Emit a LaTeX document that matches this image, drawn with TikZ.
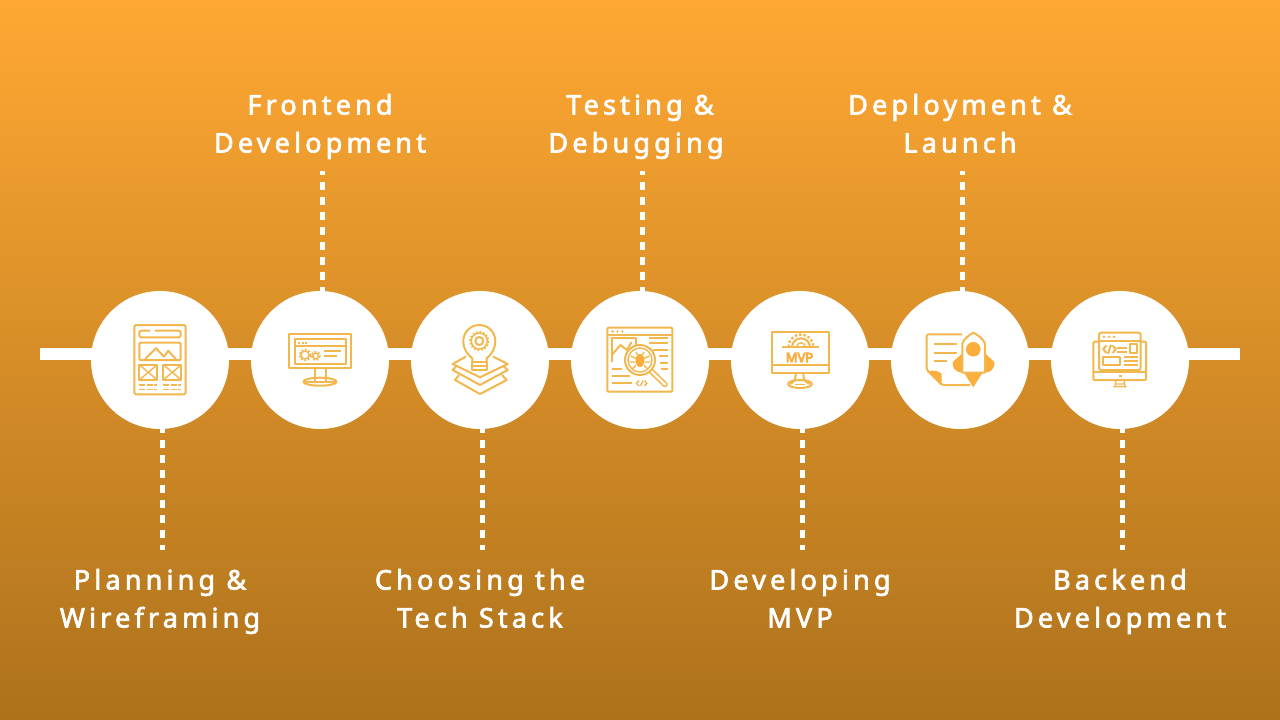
\documentclass[tikz,border=0pt]{standalone}
\usepackage{fontspec}
\newfontfamily\labfont[LetterSpace=15.5]{Noto Sans}
\newfontfamily\mvpfont{Noto Sans}
\definecolor{ic}{HTML}{F2B84E}
\definecolor{icb}{HTML}{FBAE3C}
\definecolor{bgtop}{HTML}{FFA833}
\definecolor{bgbot}{HTML}{AD721C}
\tikzset{
 bg/.style={top color=bgtop,bottom color=bgbot,draw=none},
 disc/.style={circle,fill=white,minimum size=138pt,inner sep=0pt,draw=none},
 lab/.style={text=white,align=center,font=\labfont\fontsize{27}{38}\selectfont,inner sep=0pt,text height=57pt,text depth=7pt,anchor=north,
   execute at begin node={\special{pdf:code 2 Tr 0.7 w 1 1 1 RG}}},
 mvplab/.style={text=icb,inner sep=0pt,font=\mvpfont\fontsize{13}{13}\selectfont,
   execute at begin node={\special{pdf:code 2 Tr 0.8 w 0.984 0.682 0.235 RG}}},
 spine/.style={draw=white,line width=12pt},
 dropd/.style={draw=white,line width=5pt,dash pattern=on 7.7pt off 7.3pt,dash phase=4.4pt},
 dropu/.style={draw=white,line width=5pt,dash pattern=on 7.7pt off 7.3pt,dash phase=4pt},
 icn/.style={draw=ic,line width=2pt,line join=round,fill=none},
 thin/.style={line width=1.4pt},
 icf/.style={fill=icb,draw=none},
 teeth/.style={line width=1.8pt,dash pattern=on 1.8pt off 1.8pt},
}
\begin{document}
\begin{tikzpicture}[x=1pt,y=-1pt]
\useasboundingbox (0,0) rectangle (1280,720);
\fill[bg] (0,0) rectangle (1280,720);
\coordinate (sa) at (40,354);
\coordinate (sb) at (1240,354);
\draw[spine] (sa) -- (sb);
\foreach \n/\x in {1/160,2/320,3/480,4/640,5/800,6/960,7/1120}
  \node[disc] (c\n) at (\x,360) {};
% labels
\node[lab] (l1) at (160,570.3) {Planning \&\\Wireframing};
\node[lab] (l2) at (320,95.3) {Frontend\\Development};
\node[lab] (l3) at (480,570.3) {Choosing the\\Tech Stack};
\node[lab] (l4) at (640,95.3) {Testing \&\\Debugging\hspace*{8pt}};
\node[lab] (l5) at (800,570.3) {Developing\\MVP};
\node[lab] (l6) at (960,95.3) {Deployment \&\\Launch};
\node[lab] (l7) at (1120,570.3) {Backend\\Development};
% drops
\foreach \n in {1,3,5,7}{
  \coordinate (d\n) at ([xshift=2pt]c\n.center |- 0,550);
  \draw[dropd] ([xshift=2pt]c\n.south) -- (d\n);}
\foreach \n in {2,4,6}{
  \coordinate (d\n) at ([xshift=2pt]c\n.center |- 0,171);
  \draw[dropu] (d\n) -- ([xshift=2pt]c\n.north);}
% icon 1
\begin{scope}[icn]
\draw[rounded corners=1.5pt] (134.3,325) rectangle (185.7,394.3);
\draw[rounded corners=2pt] (155,330.7) -- (180.7,330.7) -- (180.7,337.3) -- (139.3,337.3) -- (139.3,330.7) -- (150,330.7);
\draw[rounded corners=1pt] (139.3,342.7) rectangle (180.7,360);
\draw (145,359.3) -- (156,348.3) -- (164,356.7) -- (168.3,350.7) -- (176,359.3);
\draw (139.3,364.7) rectangle (157.3,380);
\draw[thin] (139.3,364.7) -- (157.3,380) (157.3,364.7) -- (139.3,380);
\draw (163.3,364.7) rectangle (181.3,380);
\draw[thin] (163.3,364.7) -- (181.3,380) (181.3,364.7) -- (163.3,380);
\draw[thin,dash pattern=on 6pt off 1.5pt] (139.3,385) -- (157,385) (139.3,389.3) -- (157,389.3) (163.3,385) -- (181,385) (163.3,389.3) -- (181,389.3);
\end{scope}
% icon 2
\begin{scope}[icn]
\draw (289.3,334.3) rectangle (350.7,368.3);
\draw (295.3,339) rectangle (346,364);
\draw (295.3,345.7) -- (346,345.7);
\draw[dash pattern=on 2pt off 1.5pt] (298,342.5) -- (307,342.5);
\draw[thin] (305,355) circle (4);
\draw[teeth] (305,355) circle (5.5);
\draw[thin] (315.7,356) circle (2.8);
\draw[teeth] (315.7,356) circle (4.2);
\draw (324.3,351) -- (340.7,351) (324.3,356) -- (336.7,356);
\draw (315,368.3) -- (315,380.7) (326,368.3) -- (326,380.7);
\draw (320,381.7) ellipse (16.7 and 4);
\draw[thin] (305,382) -- (335,382);
\end{scope}
% icon 3
\begin{scope}[icn]
\draw (472.3,361.7) -- (472.3,358.3) .. controls (467,354) and (463.3,349) .. (463.3,341) arc[start angle=180,end angle=360,radius=16] .. controls (495.3,349) and (491.7,354) .. (486.7,358.3) -- (486.7,361.7);
\draw (479.3,341) circle (4);
\draw[thin] (479.3,341) circle (8);
\draw[teeth] (479.3,341) circle (9.2);
\draw (466,356.5) -- (452.7,364) -- (480,377.3) -- (507.7,364) -- (493,356.5);
\draw (456,366.5) -- (452.7,370) -- (480,385) -- (507.7,370) -- (504,366.5);
\draw (459,375) -- (455,380) -- (480,394) -- (506.7,380) -- (502,375);
\draw[fill=white] (472.3,361.7) rectangle (486.7,370);
\draw (472.3,366) -- (486.7,366);
\end{scope}
% icon 4
\begin{scope}[icn]
\draw[rounded corners=1pt] (607.3,327.7) rectangle (672.3,391.7);
\draw (607.3,335) -- (672.3,335);
\fill[ic,draw=none] (612.7,331.5) circle (1.3) (617.3,331.5) circle (1.3) (622.3,331.5) circle (1.3);
\draw (611.7,361.7) -- (611.7,338.3) -- (635.7,338.3) -- (635.7,348);
\draw (611.7,355) -- (620.5,345) -- (627,350) -- (631.5,342);
\draw (649,337.7) -- (668.3,337.7) (649,343.3) -- (668.3,343.3) (653,350) -- (668.3,350) (659,356) -- (668.3,356) (660,362.7) -- (668.3,362.7) (661,369.3) -- (668.3,369.3);
\draw (611.7,369.3) -- (622.3,369.3) (611.7,376) -- (630,376) (611.7,382.7) -- (631.7,382.7);
\draw[line width=5.5pt,line cap=round] (651.5,371.5) -- (665,384.5);
\draw[draw=white,line width=2.2pt,line cap=round] (651.5,371.5) -- (665,384.5);
\draw[fill=white] (640,360) circle (15);
\draw[thin] (640,360) circle (12);
\fill[icb] (640,360.5) ellipse (4.5 and 6.5);
\draw[thin] (636,352) -- (638,355.5) (644,352) -- (642,355.5) (630.5,356) -- (636,358.5) (649.5,356) -- (644,358.5) (630,362) -- (635.5,362) (650,362) -- (644.5,362) (632,369) -- (636,365.5) (648,369) -- (644,365.5);
\draw[thin] (639,380.5) -- (636.5,383.3) -- (639,386) (644.5,380.5) -- (647,383.3) -- (644.5,386) (643,380.5) -- (640.5,386);
\end{scope}
% icon 5
\begin{scope}[icn]
\draw (771.7,331.7) rectangle (829,373.3);
\draw (771.7,365) -- (829,365);
\draw (781.7,347.3) -- (819.3,347.3);
\draw (792,347.3) arc[start angle=180,end angle=360,radius=9];
\draw[thin] (796.5,347.3) arc[start angle=180,end angle=360,radius=4.5];
\draw[line width=2.4pt,dash pattern=on 2.4pt off 2pt] (788.5,347) arc[start angle=180,end angle=360,radius=12.5];
\draw (795.7,373.3) .. controls (795.7,380) and (794,382) .. (790,384);
\draw (803.3,373.3) .. controls (803.3,380) and (805,382) .. (810,384);
\draw (800,384) ellipse (12 and 4);
\draw[thin] (795,384.5) -- (805,384.5);
\end{scope}
\node[mvplab] (mvp) at (799.5,357.5) {MVP};
% icon 6
\begin{scope}[icn]
\draw[rounded corners=2pt] (962,334.3) -- (926.7,334.3) -- (926.7,370) -- (941.7,385) -- (970,385);
\fill[icf] (928,371) .. controls (934,370) and (939,371) .. (941.7,374) -- (941.7,385) -- cycle;
\draw (934,344.3) -- (956.7,344.3) (934,352.7) -- (956.7,352.7) (934,361.3) -- (947.3,361.3);
\fill[icf] (962.3,353.3) -- (952.7,362) .. controls (951.5,367) and (956,373) .. (962.3,372.7) -- cycle;
\fill[icf] (985,353.3) -- (994.3,362) .. controls (995.5,367) and (991,373) .. (985,372.7) -- cycle;
\fill[icf] (964.3,373) -- (968,379) -- (973.3,387.3) -- (978.5,379) -- (982.3,373) -- cycle;
\draw[fill=white] (962.3,372.7) -- (962.3,343.3) .. controls (964,339) and (969,335) .. (973.3,332.7) .. controls (978,335) and (983,339) .. (985,343.3) -- (985,372.7) -- cycle;
\fill[icf] (973.3,349.3) circle (7.3);
\end{scope}
% icon 7
\begin{scope}[icn]
\draw[rounded corners=1pt] (1099,341.7) -- (1093.3,341.7) -- (1093.3,380) -- (1146,380) -- (1146,341.7) -- (1140.7,341.7);
\draw (1093.3,371.7) -- (1146,371.7);
\draw[rounded corners=2pt] (1099,332.7) rectangle (1140.7,370);
\draw (1099,340.7) -- (1140.7,340.7);
\fill[ic,draw=none] (1104,336.7) circle (1.4) (1109,336.7) circle (1.4) (1114,336.7) circle (1.4);
\draw (1106.5,345.5) -- (1103,349.2) -- (1106.5,353) (1112.5,345.5) -- (1116,349.2) -- (1112.5,353) (1111,344.7) -- (1108,353.7);
\draw (1117.3,348.3) -- (1126.7,348.3) (1117.3,352.3) -- (1126.7,352.3);
\draw (1130,344.3) rectangle (1137.3,353.3);
\draw (1103.3,356.7) rectangle (1120,365.3);
\draw (1124.3,357.3) -- (1137.7,357.3) (1124.3,361.3) -- (1137.7,361.3) (1124.3,365.3) -- (1137.7,365.3);
\draw[thin] (1116,380) -- (1115,386.7) (1124,380) -- (1125,386.7) (1113.3,386.7) -- (1126.7,386.7) (1115.5,384) -- (1124.5,384);
\draw[thin] (1118.5,376) -- (1121.5,376);
\end{scope}
\end{tikzpicture}
\end{document}
